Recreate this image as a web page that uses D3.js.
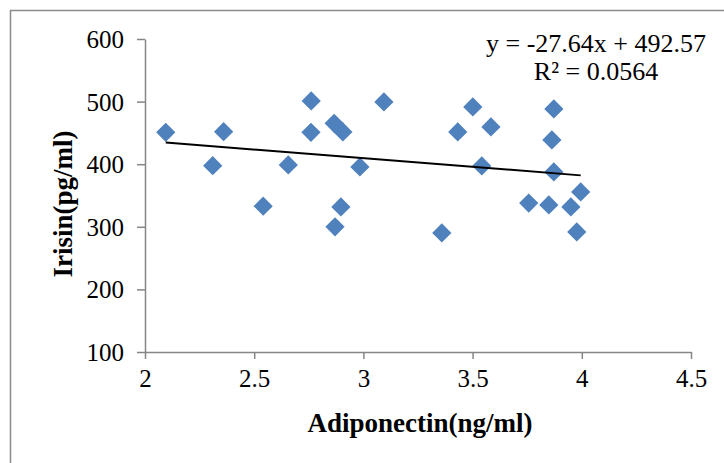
<!DOCTYPE html>
<html>
<head>
<meta charset="utf-8">
<script src="https://cdn.jsdelivr.net/npm/d3@7"></script>
<style>
  body { margin: 0; background: #fff; }
  text { font-family: "Liberation Serif", "Times New Roman", serif; fill: #000; }
</style>
</head>
<body>
<div id="chart"></div>
<script>
// Adiponectin (x) vs Irisin (y) values
const adiponectin = [2.095, 2.31, 2.36, 2.541, 2.656, 2.761, 2.76, 2.866, 2.906, 2.87, 2.897, 2.984, 3.094,
  3.359, 3.432, 3.501, 3.542, 3.584, 3.757, 3.849, 3.872, 3.863, 3.872, 3.95, 3.995, 3.977];
const irisin = [451, 397.7, 452, 333, 398.8, 501, 451, 465.4, 451.5, 300, 331.7, 395.6, 499.4,
  290.2, 451.5, 491.4, 397.2, 459.5, 338, 335, 488.2, 438.7, 387.6, 331.7, 355.7, 291.8];
const xTicks = [2, 2.5, 3, 3.5, 4, 4.5];
const yTicks = [100, 200, 300, 400, 500, 600];
const slope = -27.64, intercept = 492.57;
const eqLines = ["y = -27.64x + 492.57", "R\u00b2 = 0.0564"];

const width = 724, height = 463;

const svg = d3.select('#chart')
  .append('svg')
  .attr('width', width)
  .attr('height', height);

// chart area border (runs off the bottom/right of the picture)
svg.append('rect')
  .attr('x', 10.5).attr('y', 10.5)
  .attr('width', 800).attr('height', 500)
  .attr('fill', '#fff')
  .attr('stroke', '#8c8c8c')
  .attr('stroke-width', 1.5);

const x = d3.scaleLinear().domain([2, 4.5]).range([145, 691]);
const y = d3.scaleLinear().domain([100, 600]).range([352, 39]);

// axes
const xAxis = svg.append('g')
  .attr('transform', 'translate(0,352)')
  .call(d3.axisBottom(x).tickValues(xTicks).tickSize(7).tickSizeOuter(0).tickFormat(d3.format('')));
const yAxis = svg.append('g')
  .attr('transform', 'translate(145,0)')
  .call(d3.axisLeft(y).tickValues(yTicks).tickSize(8).tickSizeOuter(0));

[xAxis, yAxis].forEach(g => {
  g.select('.domain').attr('stroke', '#868686').attr('stroke-width', 1.5);
  g.selectAll('.tick line').attr('stroke', '#868686').attr('stroke-width', 1.5);
  g.selectAll('.tick text')
    .style('font-family', '"Liberation Serif", serif')
    .style('font-size', '25px')
    .attr('fill', '#000');
});
xAxis.selectAll('.tick text').attr('y', 17).attr('dy', '0.71em');
yAxis.selectAll('.tick text').attr('x', -21).attr('dy', '0.34em');

// points
const pts = adiponectin.map((v, i) => [v, irisin[i]]);
svg.append('g').selectAll('path')
  .data(pts)
  .enter()
  .append('path')
  .attr('d', d3.symbol(d3.symbolSquare, 185))
  .attr('transform', d => `translate(${x(d[0])},${y(d[1])}) rotate(45)`)
  .attr('fill', '#4f81bd');

// linear trendline over the data range
const xr = d3.extent(adiponectin);
svg.append('line')
  .attr('x1', x(xr[0])).attr('y1', y(slope * xr[0] + intercept))
  .attr('x2', x(xr[1])).attr('y2', y(slope * xr[1] + intercept))
  .attr('stroke', '#000')
  .attr('stroke-width', 2);

// equation
svg.selectAll('.eq')
  .data(eqLines)
  .enter()
  .append('text')
  .attr('class', 'eq')
  .attr('x', 596)
  .attr('y', (d, i) => 52 + i * 28)
  .attr('text-anchor', 'middle')
  .style('font-size', '26px')
  .text(d => d);

// axis titles
svg.append('text')
  .attr('x', 420).attr('y', 432)
  .attr('text-anchor', 'middle')
  .style('font-size', '27px')
  .style('font-weight', 'bold')
  .text('Adiponectin(ng/ml)');

svg.append('text')
  .attr('transform', 'translate(72,204) rotate(-90)')
  .attr('text-anchor', 'middle')
  .style('font-size', '27px')
  .style('font-weight', 'bold')
  .text('Irisin(pg/ml)');
</script>
</body>
</html>
